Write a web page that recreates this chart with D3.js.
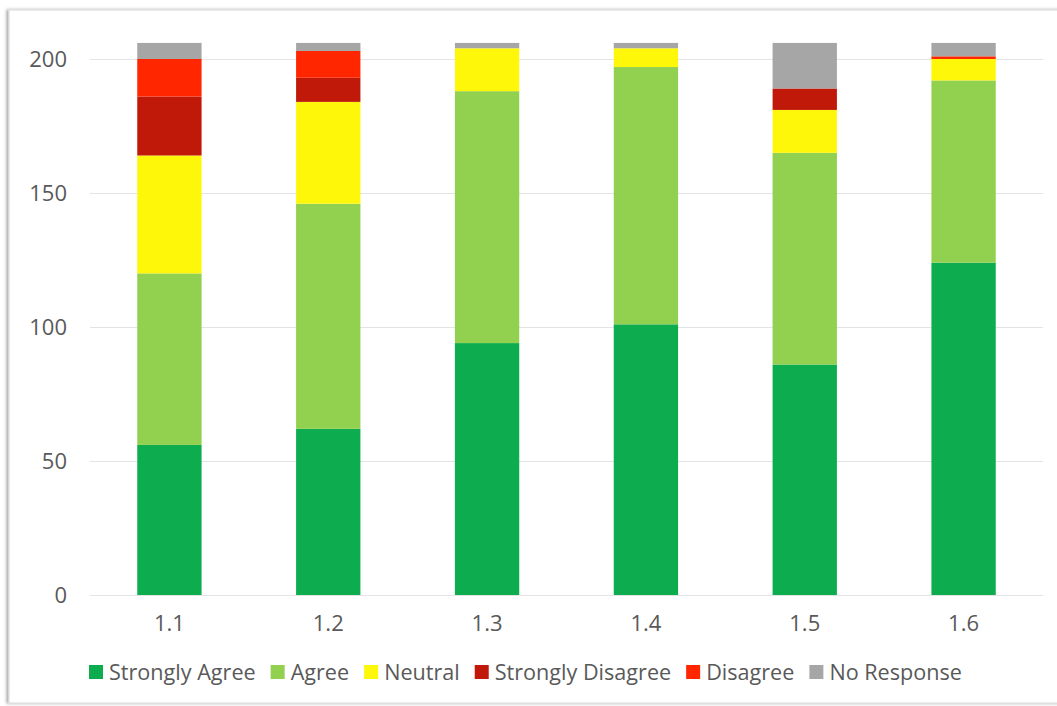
<!DOCTYPE html>
<html><head><meta charset="utf-8">
<script src="https://cdn.jsdelivr.net/npm/d3@7"></script>
<style>body{margin:0;background:#fff;} svg{display:block;font-family:"Open Sans",sans-serif;}</style>
</head><body>
<svg id="c" width="1057" height="706"></svg>
<script>
const categories = ["1.1","1.2","1.3","1.4","1.5","1.6"];
const seriesNames = ["Strongly Agree","Agree","Neutral","Strongly Disagree","Disagree","No Response"];
const stronglyAgree = [56,62,94,101,86,124];
const agree = [64,84,94,96,79,68];
const neutral = [44,38,16,7,16,8];
const stronglyDisagree = [22,9,0,0,8,0];
const disagree = [14,10,0,0,0,1];
const noResponse = [6,3,2,2,17,5];
const colors = ["#0DAD4F","#92D050","#FFF70A","#C0190A","#FF2600","#A6A6A6"];
const yTicks = [0,50,100,150,200];

(function(){
const seriesValues = [stronglyAgree,agree,neutral,stronglyDisagree,disagree,noResponse];
const rows = categories.map((c,i)=>{const r={cat:c}; seriesNames.forEach((s,j)=>r[s]=seriesValues[j][i]); return r;});
const stacked = d3.stack().keys(seriesNames)(rows);

const svg = d3.select("#c");
const defs = svg.append("defs");
const f = defs.append("filter").attr("id","sh").attr("x","-5%").attr("y","-5%").attr("width","110%").attr("height","110%");
f.append("feDropShadow").attr("dx",-2).attr("dy",0).attr("stdDeviation",1.5).attr("flood-color","#000").attr("flood-opacity",0.35);
svg.append("rect").attr("x",9).attr("y",10).attr("width",1070).attr("height",693)
  .attr("fill","#fff").attr("stroke","#d9d9d9").attr("stroke-width",1).attr("filter","url(#sh)");

const pl=90, pr=1043, pt=59, pb=595;
const x = d3.scaleBand().domain(categories).range([pl,pr]).paddingInner(0.595).paddingOuter(0.2975);
const y = d3.scaleLinear().domain([0,200]).range([pb,pt]);

svg.append("g").selectAll("line").data(yTicks).join("line")
  .attr("x1",pl).attr("x2",pr).attr("y1",d=>Math.round(y(d))+0.5).attr("y2",d=>Math.round(y(d))+0.5)
  .attr("stroke","#e3e3e3").attr("stroke-width",1);

const yAxis = svg.append("g").attr("transform",`translate(${pl},0)`)
  .call(d3.axisLeft(y).tickValues(yTicks).tickSize(0).tickPadding(23));
yAxis.select(".domain").remove();
yAxis.selectAll("text").attr("fill","#595959").style("font-size","22px").style("font-family","'Open Sans',sans-serif");

svg.append("g").selectAll("g").data(stacked).join("g").attr("fill",(d,i)=>colors[i])
  .selectAll("rect").data(d=>d).join("rect")
  .attr("x",d=>x(d.data.cat)).attr("width",x.bandwidth())
  .attr("y",d=>y(d[1])).attr("height",d=>Math.max(0,y(d[0])-y(d[1])));

const xAxis = svg.append("g").attr("transform",`translate(0,${pb})`)
  .call(d3.axisBottom(x).tickSize(0).tickPadding(20));
xAxis.select(".domain").remove();
xAxis.selectAll("text").attr("fill","#595959").style("font-size","22px").style("font-family","'Open Sans',sans-serif");

const leg = svg.append("g");
let lx = 89;
seriesNames.forEach((s,i)=>{
  leg.append("rect").attr("x",lx).attr("y",665).attr("width",14).attr("height",14).attr("fill",colors[i]);
  const t = leg.append("text").attr("x",lx+20).attr("y",672).attr("dy","0.35em")
    .attr("fill","#595959").style("font-size","21.6px").text(s);
  lx += 20 + t.node().getComputedTextLength() + 15;
});
})();
</script>
</body></html>
